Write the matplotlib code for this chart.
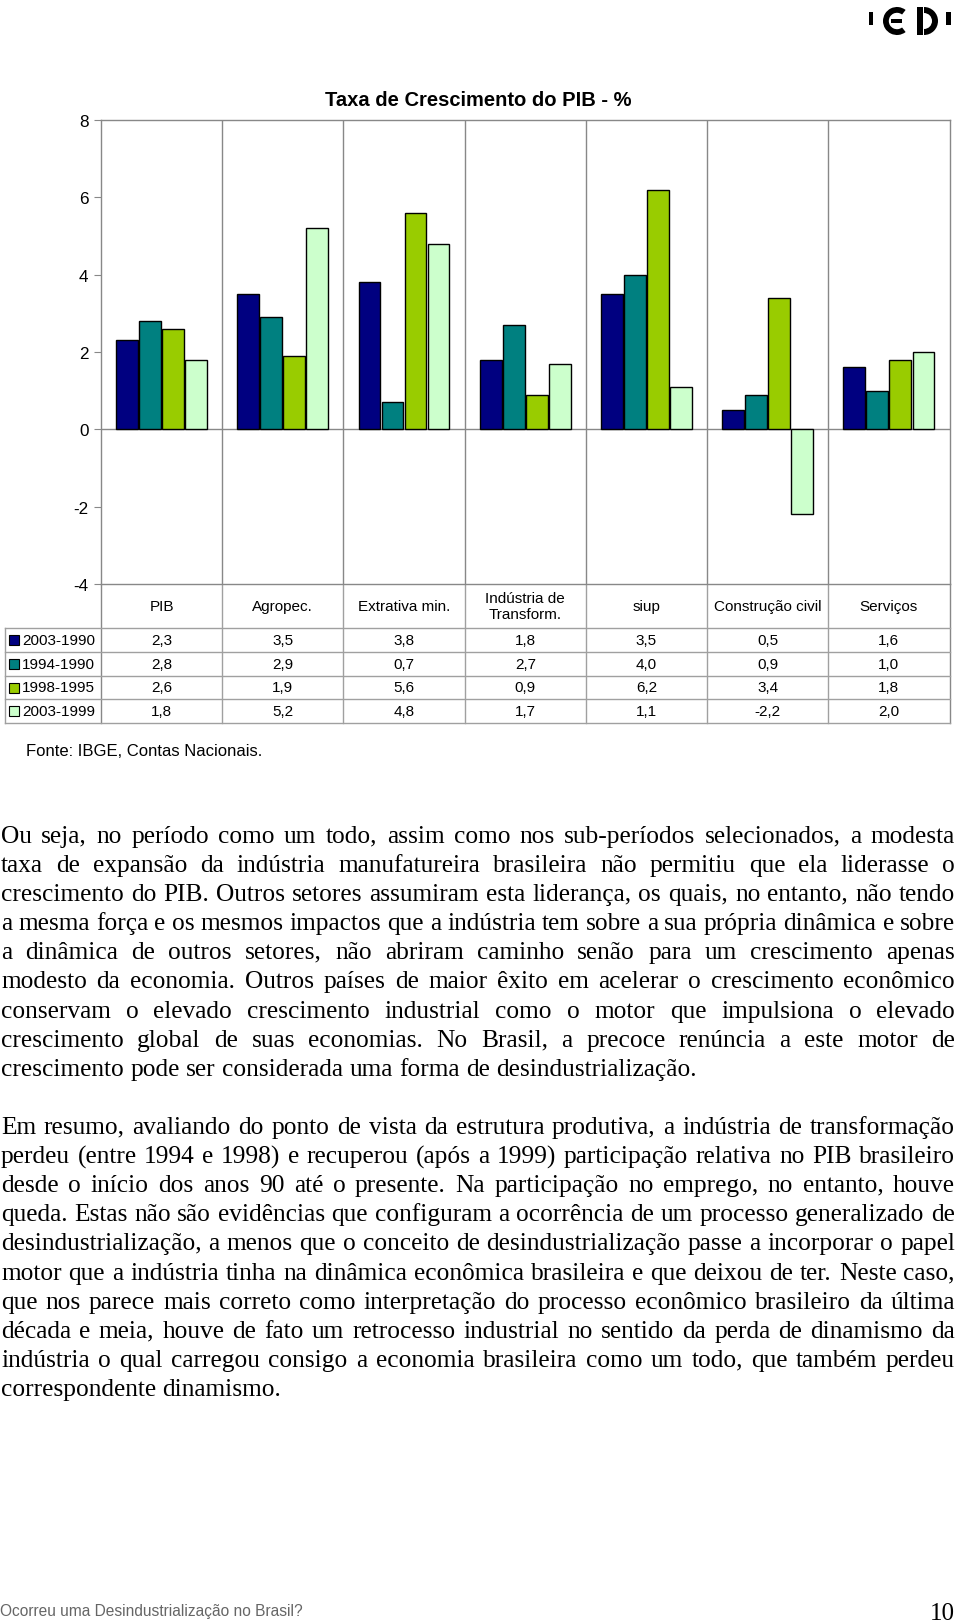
import math
import matplotlib
matplotlib.use('Agg')
import matplotlib.pyplot as plt
import matplotlib.transforms as mtransforms
from matplotlib import font_manager
from matplotlib.font_manager import FontProperties
from matplotlib.patches import Rectangle, Wedge

# data
categories = ['PIB', 'Agropec.', 'Extrativa min.', 'Indústria de\nTransform.',
              'siup', 'Construção civil', 'Serviços']
periods = ['2003-1990', '1994-1990', '1998-1995', '2003-1999']
g_2003_1990 = [2.3, 3.5, 3.8, 1.8, 3.5, 0.5, 1.6]
g_1994_1990 = [2.8, 2.9, 0.7, 2.7, 4.0, 0.9, 1.0]
g_1998_1995 = [2.6, 1.9, 5.6, 0.9, 6.2, 3.4, 1.8]
g_2003_1999 = [1.8, 5.2, 4.8, 1.7, 1.1, -2.2, 2.0]
series = [g_2003_1990, g_1994_1990, g_1998_1995, g_2003_1999]
colors = ['#000080', '#008080', '#99CC00', '#CCFFCC']
yticks = [-4, -2, 0, 2, 4, 6, 8]

para1 = [
    "Ou seja, no período como um todo, assim como nos sub-períodos selecionados, a modesta",
    "taxa de expansão da indústria manufatureira brasileira não permitiu que ela liderasse o",
    "crescimento do PIB. Outros setores assumiram esta liderança, os quais, no entanto, não tendo",
    "a mesma força e os mesmos impactos que a indústria tem sobre a sua própria dinâmica e sobre",
    "a dinâmica de outros setores, não abriram caminho senão para um crescimento apenas",
    "modesto da economia. Outros países de maior êxito em acelerar o crescimento econômico",
    "conservam o elevado crescimento industrial como o motor que impulsiona o elevado",
    "crescimento global de suas economias. No Brasil, a precoce renúncia a este motor de",
    "crescimento pode ser considerada uma forma de desindustrialização.",
]
para2 = [
    "Em resumo, avaliando do ponto de vista da estrutura produtiva, a indústria de transformação",
    "perdeu (entre 1994 e 1998) e recuperou (após a 1999) participação relativa no PIB brasileiro",
    "desde o início dos anos 90 até o presente. Na participação no emprego, no entanto, houve",
    "queda. Estas não são evidências que configuram a ocorrência de um processo generalizado de",
    "desindustrialização, a menos que o conceito de desindustrialização passe a incorporar o papel",
    "motor que a indústria tinha na dinâmica econômica brasileira e que deixou de ter. Neste caso,",
    "que nos parece mais correto como interpretação do processo econômico brasileiro da última",
    "década e meia, houve de fato um retrocesso industrial no sentido da perda de dinamismo da",
    "indústria o qual carregou consigo a economia brasileira como um todo, que também perdeu",
    "correspondente dinamismo.",
]

plt.rcParams['font.family'] = ['Liberation Sans', 'DejaVu Sans']

W, H = 960, 1624
fig = plt.figure(figsize=(W / 100, H / 100), dpi=100)
fig.patch.set_facecolor('white')

ov = fig.add_axes([0, 0, 1, 1], zorder=0)
ov.set_xlim(0, W)
ov.set_ylim(H, 0)
ov.axis('off')

# chart
ax = fig.add_axes([101 / W, 1 - 585 / H, 848.5 / W, (585 - 121) / H], zorder=1)
ax.set_facecolor('white')
grid_c = '#888888'
tab_c = '#a0a0a0'
for i in range(1, len(categories)):
    ax.axvline(i, color=grid_c, lw=1, zorder=0)
ax.axhline(0, color=grid_c, lw=1, zorder=1)

bw, step = 0.18, 0.19
for k, (vals, c) in enumerate(zip(series, colors)):
    xs = [i + 0.12 + step * k + step / 2 for i in range(len(categories))]
    ax.bar(xs, vals, width=bw, color=c, edgecolor='black', lw=1, zorder=2)

ax.set_xlim(0, len(categories))
ax.set_ylim(-4, 8)
ax.set_xticks([])
ax.set_yticks(yticks)
ax.set_yticklabels([str(v) for v in yticks])
ax.tick_params(axis='y', length=5, color=grid_c, pad=4, labelsize=12.3)
for s in ax.spines.values():
    s.set_color(grid_c)
    s.set_linewidth(1)

ov.text(478, 101, 'Taxa de Crescimento do PIB - %', ha='center', va='center',
        fontsize=14.5, fontweight='bold')

# data table under the chart
trans = mtransforms.blended_transform_factory(ax.transData, ov.transData)
row_lines = [629, 653, 676.5, 700, 723.5]
row_centers = [641, 665, 688.5, 712]
for i in range(len(categories) + 1):
    ov.plot([i, i], [585, 723.5], color=tab_c if 0 < i < len(categories) else grid_c,
            lw=1, transform=trans)
x_right = ax.transData.transform((len(categories), 0))[0]
for y in row_lines:
    ov.plot([5, x_right], [y, y], color=tab_c, lw=1)
ov.plot([5, 5], [629, 723.5], color=tab_c, lw=1)

for i, cat in enumerate(categories):
    ov.text(i + 0.5, 607, cat, ha='center', va='center', fontsize=11,
            transform=trans, linespacing=1.15)
for r, (name, vals, c) in enumerate(zip(periods, series, colors)):
    yc = row_centers[r]
    ov.add_patch(Rectangle((8.5, yc - 5), 10, 10, facecolor=c, edgecolor='black', lw=0.8))
    ov.text(22, yc, name, ha='left', va='center', fontsize=11)
    for i, v in enumerate(vals):
        ov.text(i + 0.5, yc, f'{v:.1f}'.replace('.', ','), ha='center', va='center',
                fontsize=11, transform=trans)

ov.text(26, 752, 'Fonte: IBGE, Contas Nacionais.', ha='left', va='center', fontsize=12)

# justified body text
renderer = fig.canvas.get_renderer()
fp = FontProperties(family='Liberation Serif', size=18.25)


def metrics(s):
    return renderer.get_text_width_height_descent(s, fp, ismath=False)


def tw(s):
    return metrics(s)[0]


space = tw('a a') - tw('aa')


def put_word(x, base, word):
    # keep every word on the same pixel baseline
    w, h, d = metrics(word)
    ymx = h - d
    y = base + math.floor(ymx + d) - math.floor(ymx) - d
    ov.text(x, y, word, fontproperties=fp, ha='left', va='baseline')


def paragraph(lines, y0, dy=29.1, x0=1, x1=955):
    for n, line in enumerate(lines):
        words = line.split()
        widths = [tw(w) for w in words]
        last = n == len(lines) - 1
        gap = space if last else (x1 - x0 - sum(widths)) / (len(words) - 1)
        x = x0
        base = round(y0 + n * dy)
        for w, wd in zip(words, widths):
            put_word(x, base, w)
            x += wd + gap


paragraph(para1, 843)
paragraph(para2, 1134)

# footer
names = {f.name for f in font_manager.fontManager.ttflist}
if 'Liberation Sans Narrow' in names:
    ov.text(0, 1616, 'Ocorreu uma Desindustrialização no Brasil?', ha='left', va='baseline',
            family='Liberation Sans Narrow', fontsize=13.6, color='#666666')
else:
    ov.text(0, 1616, 'Ocorreu uma Desindustrialização no Brasil?', ha='left', va='baseline',
            fontsize=11.2, color='#666666')
ov.text(955, 1620, '10', ha='right', va='baseline', family='Liberation Serif', fontsize=18)

# logo
ov.add_patch(Rectangle((868.5, 13), 4.5, 12.5, color='black', lw=0))
ov.add_patch(Wedge((897, 22), 14, 52, 308, width=5.8, color='black', lw=0))
ov.add_patch(Rectangle((891, 19.8), 11, 4, color='black', lw=0))
ov.add_patch(Rectangle((917, 8), 6, 28, color='black', lw=0))
ov.add_patch(Wedge((924, 22), 14, -90, 90, width=6, color='black', lw=0))
ov.add_patch(Rectangle((946, 13), 4.5, 12.5, color='black', lw=0))

fig.savefig('out.png', dpi=100)
